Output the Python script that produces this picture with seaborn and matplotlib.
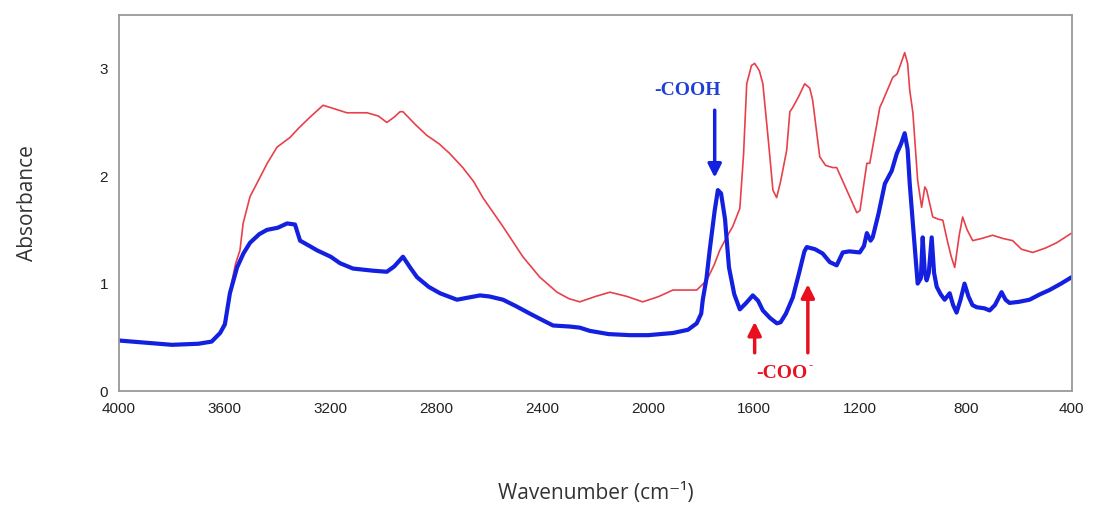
import numpy as np
import pandas as pd
import matplotlib
matplotlib.use("Agg")
import matplotlib.pyplot as plt
import seaborn as sns

# spectra (wavenumber cm-1, absorbance)
wn_blue = [4000, 3900, 3800, 3700, 3650, 3618, 3600, 3581, 3554, 3530, 3505, 3470, 3441, 3400,
           3365, 3335, 3316, 3280, 3252, 3200, 3165, 3116, 3040, 2988, 2960, 2927, 2900, 2874,
           2830, 2787, 2723, 2680, 2636, 2600, 2549, 2500, 2447, 2400, 2360, 2296, 2259, 2221,
           2150, 2070, 2000, 1907, 1850, 1817, 1800, 1794, 1780, 1768, 1749, 1737, 1725, 1710,
           1695, 1675, 1654, 1630, 1605, 1585, 1567, 1540, 1514, 1500, 1480, 1454, 1430, 1410,
           1401, 1370, 1341, 1314, 1288, 1265, 1240, 1201, 1185, 1174, 1160, 1152, 1130, 1106,
           1080, 1061, 1045, 1031, 1020, 1012, 995, 982, 970, 963, 955, 948, 940, 929, 920, 910,
           895, 880, 861, 848, 835, 820, 805, 790, 775, 759, 730, 710, 690, 665, 650, 635, 600,
           559, 520, 484, 440, 400]
abs_blue = [0.47, 0.45, 0.43, 0.44, 0.46, 0.54, 0.62, 0.91, 1.15, 1.28, 1.38, 1.46, 1.50, 1.52,
            1.56, 1.55, 1.40, 1.35, 1.31, 1.25, 1.19, 1.14, 1.12, 1.11, 1.16, 1.25, 1.15, 1.06,
            0.97, 0.91, 0.85, 0.87, 0.89, 0.88, 0.85, 0.79, 0.72, 0.66, 0.61, 0.60, 0.59, 0.56,
            0.53, 0.52, 0.52, 0.54, 0.57, 0.63, 0.72, 0.85, 1.05, 1.31, 1.68, 1.87, 1.84, 1.60,
            1.15, 0.90, 0.76, 0.82, 0.89, 0.84, 0.75, 0.68, 0.63, 0.64, 0.72, 0.87, 1.10, 1.30,
            1.34, 1.32, 1.28, 1.20, 1.17, 1.29, 1.30, 1.29, 1.35, 1.47, 1.40, 1.43, 1.65, 1.93,
            2.05, 2.21, 2.30, 2.40, 2.25, 1.93, 1.40, 1.00, 1.05, 1.43, 1.10, 1.03, 1.10, 1.43,
            1.10, 0.97, 0.90, 0.85, 0.91, 0.80, 0.73, 0.85, 1.00, 0.88, 0.80, 0.78, 0.77, 0.75,
            0.80, 0.92, 0.85, 0.82, 0.83, 0.85, 0.90, 0.94, 1.00, 1.06]

wn_red = [4000, 3900, 3800, 3700, 3650, 3618, 3600, 3581, 3560, 3543, 3531, 3505, 3467, 3440,
          3403, 3354, 3320, 3278, 3229, 3190, 3139, 3100, 3063, 3020, 2988, 2960, 2938, 2927,
          2880, 2837, 2790, 2750, 2701, 2660, 2625, 2549, 2474, 2410, 2345, 2300, 2259, 2200,
          2145, 2080, 2021, 1960, 1907, 1817, 1779, 1750, 1730, 1700, 1681, 1654, 1640, 1628,
          1610, 1598, 1580, 1567, 1545, 1529, 1515, 1500, 1477, 1465, 1454, 1430, 1409, 1390,
          1379, 1352, 1330, 1303, 1288, 1250, 1212, 1200, 1174, 1163, 1125, 1114, 1076, 1060,
          1045, 1031, 1020, 1012, 1000, 982, 967, 955, 948, 925, 905, 887, 870, 855, 842, 825,
          812, 795, 774, 740, 699, 660, 623, 590, 547, 500, 457, 400]
abs_red = [0.47, 0.45, 0.43, 0.44, 0.47, 0.55, 0.65, 0.93, 1.18, 1.31, 1.56, 1.81, 1.99, 2.12,
           2.27, 2.36, 2.45, 2.55, 2.66, 2.63, 2.59, 2.59, 2.59, 2.56, 2.50, 2.55, 2.60, 2.60,
           2.48, 2.38, 2.30, 2.21, 2.08, 1.95, 1.80, 1.53, 1.25, 1.06, 0.92, 0.86, 0.83, 0.88,
           0.92, 0.88, 0.83, 0.88, 0.94, 0.94, 1.03, 1.18, 1.31, 1.45, 1.53, 1.70, 2.20, 2.86,
           3.03, 3.05, 2.98, 2.86, 2.30, 1.87, 1.80, 1.95, 2.24, 2.60, 2.64, 2.75, 2.86, 2.82,
           2.71, 2.18, 2.10, 2.08, 2.08, 1.87, 1.66, 1.68, 2.12, 2.12, 2.64, 2.70, 2.92, 2.95,
           3.05, 3.15, 3.05, 2.80, 2.59, 1.96, 1.71, 1.90, 1.87, 1.62, 1.60, 1.59, 1.40, 1.25,
           1.15, 1.45, 1.62, 1.50, 1.40, 1.42, 1.45, 1.42, 1.40, 1.32, 1.29, 1.33, 1.38, 1.47]

x_ticks = [4000, 3600, 3200, 2800, 2400, 2000, 1600, 1200, 800, 400]
y_ticks = [0, 1, 2, 3]

blue = "#1420e0"
red = "#e8404a"
arrow_red = "#e8101e"

sns.set_theme(style="white")
plt.rcParams["font.family"] = ["Liberation Sans", "DejaVu Sans"]

fig = plt.figure(figsize=(10.95, 5.11), dpi=100)
ax = fig.add_axes([0.1087, 0.2348, 0.8700, 0.7358])

red_df = pd.DataFrame({"wn": wn_red, "abs": abs_red})
blue_df = pd.DataFrame({"wn": wn_blue, "abs": abs_blue})
sns.lineplot(data=red_df, x="wn", y="abs", ax=ax, color=red, linewidth=1.2, estimator=None)
sns.lineplot(data=blue_df, x="wn", y="abs", ax=ax, color=blue, linewidth=3.0, estimator=None)

ax.set_xlim(4000, 400)
ax.set_ylim(0, 3.5)
ax.set_xticks(x_ticks)
ax.set_yticks(y_ticks)
ax.tick_params(direction="in", length=4, width=1, color="#888888", labelsize=11,
               labelcolor="#222222", pad=8)
for s in ax.spines.values():
    s.set_color("#999999")
    s.set_linewidth(1.3)

ax.set_xlabel("Wavenumber (cm\u207b\u00b9)", fontsize=15, color="#333333", labelpad=48,
              family=["Open Sans", "DejaVu Sans"])
ax.set_ylabel("Absorbance", fontsize=15, color="#333333", labelpad=44,
              family=["Open Sans", "DejaVu Sans"])

# annotations
serif = ["Liberation Serif", "DejaVu Serif"]
ax.text(1851, 2.80, "-COOH", color="#1f3fd6", fontsize=14, fontweight="bold",
        family=serif, ha="center", va="center")
ax.annotate("", xy=(1749, 1.96), xytext=(1749, 2.64),
            arrowprops=dict(arrowstyle="-|>", color=blue, lw=2.5, mutation_scale=20))
ax.annotate("", xy=(1598, 0.67), xytext=(1598, 0.33),
            arrowprops=dict(arrowstyle="-|>", color=arrow_red, lw=2.5, mutation_scale=20))
ax.annotate("", xy=(1397, 1.02), xytext=(1397, 0.33),
            arrowprops=dict(arrowstyle="-|>", color=arrow_red, lw=2.5, mutation_scale=20))
ax.text(1495, 0.16, "-COO", color=arrow_red, fontsize=14, fontweight="bold",
        family=serif, ha="center", va="center")
ax.annotate("-", xy=(1495, 0.16), xytext=(21, 6), textcoords="offset points",
            color=arrow_red, fontsize=9, fontweight="bold", family=serif,
            ha="center", va="center")

fig.savefig("out.png", dpi=100)
